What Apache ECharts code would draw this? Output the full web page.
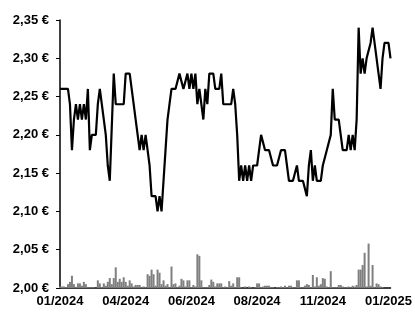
<!DOCTYPE html>
<html>
<head>
<meta charset="utf-8">
<script src="https://cdn.jsdelivr.net/npm/echarts@6/dist/echarts.min.js"></script>
<style>
  html, body { margin: 0; padding: 0; background: #fff; }
  #chart { width: 415px; height: 313px; }
</style>
</head>
<body>
<div id="chart"></div>
<script>
// month labels shown on the x axis, one every 33 points
const tickLabels = ['01/2024', '04/2024', '06/2024', '08/2024', '11/2024', '01/2025']
const tickEvery = 33

// closing price (€)
const prices = [
  2.26, 2.26, 2.26, 2.26, 2.26, 2.24, 2.18, 2.22, 2.24, 2.22,
  2.24, 2.22, 2.24, 2.22, 2.26, 2.18, 2.20, 2.20, 2.20, 2.24,
  2.26, 2.24, 2.24, 2.20, 2.16, 2.14, 2.14, 2.28, 2.24, 2.24,
  2.24, 2.24, 2.24, 2.28, 2.28, 2.28, 2.26, 2.24, 2.22, 2.20,
  2.18, 2.20, 2.18, 2.20, 2.18, 2.16, 2.12, 2.12, 2.12, 2.10,
  2.12, 2.10, 2.14, 2.18, 2.22, 2.24, 2.26, 2.26, 2.26, 2.26,
  2.28, 2.28, 2.26, 2.26, 2.28, 2.26, 2.28, 2.26, 2.28, 2.24,
  2.26, 2.24, 2.22, 2.26, 2.24, 2.28, 2.28, 2.28, 2.26, 2.26,
  2.26, 2.28, 2.24, 2.24, 2.24, 2.24, 2.24, 2.26, 2.24, 2.20,
  2.14, 2.16, 2.14, 2.16, 2.14, 2.16, 2.14, 2.16, 2.16, 2.16,
  2.18, 2.20, 2.20, 2.18, 2.18, 2.18, 2.18, 2.16, 2.16, 2.16,
  2.16, 2.18, 2.18, 2.18, 2.16, 2.14, 2.14, 2.14, 2.14, 2.16,
  2.14, 2.14, 2.14, 2.14, 2.12, 2.16, 2.18, 2.14, 2.16, 2.14,
  2.14, 2.14, 2.16, 2.16, 2.18, 2.18, 2.20, 2.26, 2.22, 2.22,
  2.22, 2.20, 2.18, 2.18, 2.18, 2.20, 2.18, 2.20, 2.18, 2.22,
  2.34, 2.28, 2.30, 2.28, 2.30, 2.30, 2.32, 2.34, 2.32, 2.32,
  2.28, 2.26, 2.30, 2.32, 2.32, 2.32, 2.30
]

// traded volume (thousand shares), same points
const volumes = [
  2, 2, 2, 1, 5, 8, 16, 5, 1, 6,
  6, 3, 8, 5, 1, 1, 1, 1, 0, 10,
  6, 1, 6, 3, 8, 13, 5, 13, 27, 8,
  12, 8, 14, 8, 3, 10, 6, 2, 4, 4,
  4, 1, 2, 1, 18, 16, 24, 18, 3, 24,
  20, 5, 10, 3, 5, 1, 28, 5, 6, 1,
  3, 12, 10, 2, 10, 10, 1, 4, 2, 44,
  42, 10, 1, 1, 1, 4, 11, 8, 2, 6,
  6, 6, 1, 2, 1, 9, 3, 6, 1, 14,
  14, 1, 0, 2, 0, 2, 1, 0, 1, 6,
  6, 1, 2, 3, 3, 3, 1, 1, 0, 1,
  1, 2, 1, 3, 1, 3, 3, 1, 1, 10,
  10, 1, 1, 3, 5, 4, 1, 17, 2, 14,
  3, 5, 13, 12, 2, 1, 22, 1, 1, 1,
  4, 4, 2, 1, 1, 2, 1, 3, 2, 4,
  24, 24, 30, 46, 2, 58, 3, 30, 1, 6,
  5, 2, 1, 0, 0, 0, 0
]

const points = prices.map((p, i) => i)

const chart = echarts.init(document.getElementById('chart'), null, { renderer: 'canvas' })

const labelFont = {
  color: '#000',
  fontFamily: 'Liberation Sans, Arial, sans-serif',
  fontWeight: 'bold',
  fontSize: 13
}

chart.setOption({
  animation: false,
  grid: { left: 60, right: 23, top: 20, bottom: 25 },
  xAxis: {
    type: 'category',
    data: points,
    boundaryGap: false,
    axisLine: { lineStyle: { color: '#000', width: 1.5 } },
    axisTick: { show: false },
    axisLabel: {
      ...labelFont,
      margin: 7,
      interval: (idx) => idx % tickEvery === 0,
      formatter: (v, idx) => tickLabels[Math.round(idx / tickEvery)] || ''
    },
    splitLine: { show: false }
  },
  yAxis: [{
    type: 'value',
    min: 2.0,
    max: 2.35,
    interval: 0.05,
    axisLine: { show: true, lineStyle: { color: '#000', width: 1.5 } },
    axisTick: { show: true, inside: false, length: 4, lineStyle: { color: '#000' } },
    axisLabel: {
      ...labelFont,
      margin: 11,
      formatter: (v) => v.toFixed(2).replace('.', ',') + ' €'
    },
    splitLine: { show: false }
  }, {
    type: 'value',
    min: 0,
    max: 350,
    show: false,
    splitLine: { show: false }
  }],
  series: [{
    name: 'volume',
    type: 'bar',
    yAxisIndex: 1,
    data: volumes,
    barWidth: 2,
    itemStyle: { color: '#7f7f7f' },
    silent: true
  }, {
    name: 'price',
    type: 'line',
    data: prices,
    symbol: 'none',
    lineStyle: { color: '#000', width: 2.2 },
    z: 3
  }]
})
</script>
</body>
</html>
